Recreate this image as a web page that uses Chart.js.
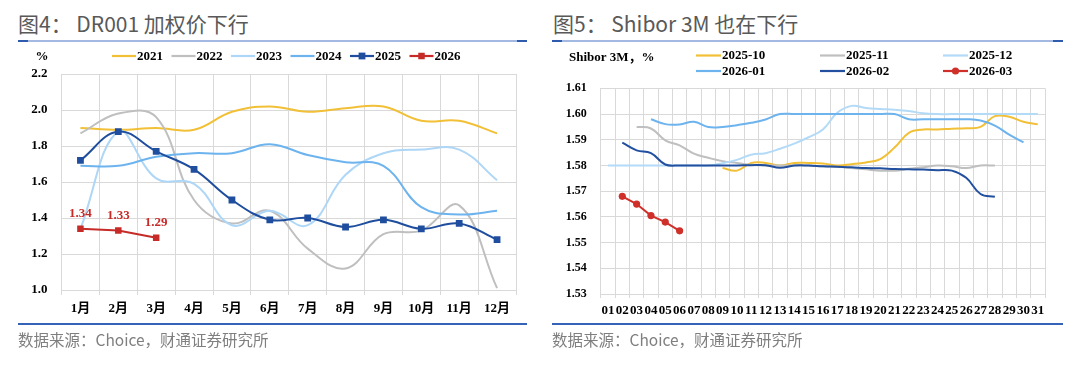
<!DOCTYPE html>
<html>
<head>
<meta charset="utf-8">
<script src="https://cdn.jsdelivr.net/npm/chart.js@4.4.1/dist/chart.umd.min.js"></script>
<style>
  body { margin: 0; background: #fff; width: 1080px; height: 367px; overflow: hidden; position: relative; font-family: "Noto Sans CJK SC", sans-serif; }
  .title { position: absolute; top: 8px; font-size: 21px; color: #595959; white-space: pre; }
  .rule-top { position: absolute; top: 40px; height: 2px; background: #A3B9E2; }
  .rule-top::before, .rule-top::after { content: ''; position: absolute; top: 0; width: 10px; height: 2px; background: #2F5BAE; }
  .rule-top::before { left: 0; }
  .rule-top::after { right: 0; }
  .rule-bottom { position: absolute; top: 323px; height: 2px; background: #3563B8; }
  .source { position: absolute; top: 328px; font-size: 15.5px; color: #7F7F7F; white-space: pre; }
  canvas { position: absolute; top: 0; }
</style>
</head>
<body>
<div class="title" style="left:18px">图4： DR001 加权价下行</div>
<div class="rule-top" style="left:18px;width:509px"></div>
<div class="title" style="left:553px">图5： Shibor 3M 也在下行</div>
<div class="rule-top" style="left:552px;width:511px"></div>

<canvas id="dr001" width="540" height="367" style="left:0"></canvas>
<canvas id="shibor" width="540" height="367" style="left:540px"></canvas>

<div class="rule-bottom" style="left:18px;width:509px"></div>
<div class="source" style="left:18px">数据来源：Choice，财通证券研究所</div>
<div class="rule-bottom" style="left:552px;width:511px"></div>
<div class="source" style="left:552px">数据来源：Choice，财通证券研究所</div>

<script>
// --- 图4 数据: DR001 月均 (%) ---
const months = ['1月', '2月', '3月', '4月', '5月', '6月', '7月', '8月', '9月', '10月', '11月', '12月'];
const dr2021 = [1.90, 1.89, 1.90, 1.89, 1.99, 2.02, 1.99, 2.01, 2.02, 1.94, 1.94, 1.87];
const dr2022 = [1.87, 1.98, 1.96, 1.50, 1.37, 1.44, 1.23, 1.12, 1.31, 1.33, 1.47, 1.01];
const dr2023 = [1.34, 1.88, 1.62, 1.59, 1.36, 1.44, 1.36, 1.64, 1.76, 1.78, 1.78, 1.61];
const dr2024 = [1.69, 1.69, 1.74, 1.76, 1.76, 1.81, 1.75, 1.71, 1.69, 1.46, 1.42, 1.44];
const dr2025 = [1.72, 1.88, 1.77, 1.67, 1.50, 1.39, 1.40, 1.35, 1.39, 1.34, 1.37, 1.28];
const dr2026 = [1.34, 1.33, 1.29];
const drTicks = { min: 1.0, max: 2.2, step: 0.2 };

// --- 图5 数据: Shibor 3M 日度 (%) ---
const days = ['01', '02', '03', '04', '05', '06', '07', '08', '09', '10', '11', '12', '13', '14', '15', '16',
              '17', '18', '19', '20', '21', '22', '23', '24', '25', '26', '27', '28', '29', '30', '31'];
const sh2510 = [null, null, null, null, null, null, null, null, 1.5790, 1.5780, 1.5810, 1.5810, 1.5800, 1.5810, 1.5810, 1.5808,
                1.5800, 1.5805, 1.5812, 1.5825, 1.5870, 1.5927, 1.5940, 1.5940, 1.5943, 1.5945, 1.5950, 1.5992, 1.5990, 1.5970, 1.5960];
const sh2511 = [null, null, 1.5950, 1.5944, 1.5898, 1.5878, 1.5846, 1.5830, 1.5817, 1.5810, 1.5803, 1.5800, 1.5800, 1.5800, 1.5800, 1.5797,
                1.5795, 1.5790, 1.5785, 1.5780, 1.5780, 1.5787, 1.5793, 1.5800, 1.5797, 1.5790, 1.5800, 1.5800, null, null, null];
const sh2512 = [1.5800, 1.5800, 1.5800, 1.5800, 1.5800, 1.5800, 1.5800, 1.5800, 1.5809, 1.5822, 1.5842, 1.5848, 1.5865, 1.5885, 1.5910, 1.5940,
                1.6005, 1.6032, 1.6024, 1.6020, 1.6017, 1.6012, 1.6003, 1.6000, 1.6000, 1.6000, 1.6000, 1.6000, 1.6000, 1.6000, 1.6000];
const sh2601 = [null, null, null, 1.5980, 1.5961, 1.5960, 1.5970, 1.5950, 1.5950, 1.5957, 1.5966, 1.5979, 1.6000, 1.6000, 1.6000, 1.6000,
                1.6000, 1.6000, 1.6000, 1.6000, 1.6000, 1.5980, 1.5980, 1.5980, 1.5980, 1.5980, 1.5975, 1.5955, 1.5920, 1.5890, null];
const sh2602 = [null, 1.5889, 1.5859, 1.5848, 1.5804, 1.5800, 1.5800, 1.5800, 1.5800, 1.5800, 1.5801, 1.5801, 1.5791, 1.5800, 1.5800, 1.5797,
                1.5795, 1.5793, 1.5790, 1.5789, 1.5786, 1.5785, 1.5784, 1.5782, 1.5780, 1.5752, 1.5689, 1.5678, null, null, null];
const sh2603 = [null, 1.5680, 1.5650, 1.5605, 1.5580, 1.5546];
const shTicks = { min: 1.53, max: 1.61, step: 0.01 };

const SERIF = '"Liberation Serif", "Noto Sans CJK SC", serif';
const GRID = '#D9D9D9';

Chart.defaults.font.family = SERIF;
Chart.defaults.font.weight = 'bold';
Chart.defaults.color = '#000';

// 画线条(无标记)
function plainLine(label, data, color, order) {
    return { label, data, borderColor: color, backgroundColor: color, borderWidth: 2,
             pointRadius: 0, pointHoverRadius: 0, tension: 0.4, order };
}
// 画带标记的线
function markedLine(label, data, color, style, radius, tension, order) {
    return { label, data, borderColor: color, backgroundColor: color, borderWidth: 2,
             pointStyle: style, pointRadius: radius, pointHoverRadius: radius,
             pointBackgroundColor: color, pointBorderColor: color, pointBorderWidth: 0,
             tension, order };
}

// 自定义图例: 线段 + 可选标记 + 文字, 位置按参考图
const keyLegend = {
    id: 'keyLegend',
    afterDraw(chart, args, opts) {
        const ctx = chart.ctx;
        ctx.save();
        ctx.font = 'bold 13px ' + SERIF;
        ctx.textBaseline = 'middle';
        ctx.fillStyle = '#000';
        if (opts.unit) {
            ctx.textAlign = opts.unit.align || 'left';
            ctx.fillText(opts.unit.text, opts.unit.x, opts.unit.y);
        }
        ctx.textAlign = 'left';
        chart.data.datasets.forEach((ds, i) => {
            const p = opts.pos[i];
            if (!p) return;
            const len = opts.len;
            ctx.strokeStyle = ds.borderColor;
            ctx.lineWidth = 2.2;
            ctx.beginPath();
            ctx.moveTo(p[0], p[1]);
            ctx.lineTo(p[0] + len, p[1]);
            ctx.stroke();
            if (ds.pointRadius > 0) {
                ctx.fillStyle = ds.borderColor;
                const r = ds.pointRadius;
                ctx.beginPath();
                if (ds.pointStyle === 'rect') {
                    const s = r * Math.SQRT1_2;
                    ctx.rect(p[0] + len / 2 - s, p[1] - s, 2 * s, 2 * s);
                } else {
                    ctx.arc(p[0] + len / 2, p[1], r, 0, Math.PI * 2);
                }
                ctx.fill();
            }
            ctx.fillStyle = '#000';
            ctx.fillText(ds.label, p[0] + len + 1, p[1] + 0.5);
        });
        ctx.restore();
    }
};

// 数据标签 (仅 showValues 的序列)
const valueLabels = {
    id: 'valueLabels',
    afterDatasetsDraw(chart) {
        const ctx = chart.ctx;
        chart.data.datasets.forEach((ds, i) => {
            if (!ds.showValues) return;
            const meta = chart.getDatasetMeta(i);
            ctx.save();
            ctx.font = 'bold 13px ' + SERIF;
            ctx.fillStyle = ds.borderColor;
            ctx.textAlign = 'center';
            ctx.textBaseline = 'middle';
            meta.data.forEach((pt, j) => {
                if (ds.data[j] == null) return;
                ctx.fillText(ds.data[j].toFixed(2), pt.x, pt.y - 15);
            });
            ctx.restore();
        });
    }
};

function axes(t, fontSize, xFontSize, decimals, yWidth, xHeight, tickLen, xPad) {
    return {
        x: {
            offset: true,
            grid: { offset: true, color: GRID, tickLength: tickLen },
            border: { color: GRID },
            ticks: { font: { size: xFontSize, weight: 'bold' }, padding: xPad, maxRotation: 0, minRotation: 0, autoSkip: false },
            afterFit: s => { s.height = xHeight; }
        },
        y: {
            min: t.min, max: t.max,
            grid: { color: GRID, drawTicks: false },
            border: { color: GRID },
            ticks: { stepSize: t.step, font: { size: fontSize, weight: 'bold' }, padding: 14,
                     callback: v => Number(v).toFixed(decimals) },
            afterFit: s => { s.width = yWidth; }
        }
    };
}

// --- 图4 ---
new Chart(document.getElementById('dr001'), {
    type: 'line',
    data: {
        labels: months,
        datasets: [
            plainLine('2021', dr2021, '#F2C037', 6),
            plainLine('2022', dr2022, '#BFBFBF', 5),
            plainLine('2023', dr2023, '#ADD6F7', 4),
            plainLine('2024', dr2024, '#6DB3EE', 3),
            markedLine('2025', dr2025, '#1F4E9E', 'rect', 4.8, 0.4, 2),
            Object.assign(markedLine('2026', dr2026, '#C62B28', 'rect', 4.6, 0, 1), { showValues: true })
        ]
    },
    options: {
        responsive: false,
        animation: false,
        layout: { padding: { left: 0, right: 24, top: 74, bottom: 47 } },
        plugins: {
            legend: { display: false },
            tooltip: { enabled: false },
            keyLegend: {
                len: 24,
                unit: { text: '%', x: 42, y: 57, align: 'center' },
                pos: [[112, 56], [171.5, 56], [231, 56], [290.5, 56], [350, 56], [409.5, 56]]
            }
        },
        scales: axes(drTicks, 13, 13, 1, 61.5, 30, 5, 6)
    },
    plugins: [keyLegend, valueLabels]
});

// --- 图5 ---
new Chart(document.getElementById('shibor'), {
    type: 'line',
    data: {
        labels: days,
        datasets: [
            plainLine('2025-10', sh2510, '#F2C037', 6),
            plainLine('2025-11', sh2511, '#BFBFBF', 5),
            plainLine('2025-12', sh2512, '#B3DAF7', 4),
            plainLine('2026-01', sh2601, '#6DB3EE', 3),
            plainLine('2026-02', sh2602, '#22509F', 2),
            markedLine('2026-03', sh2603, '#D0302A', 'circle', 3.6, 0, 1)
        ]
    },
    options: {
        responsive: false,
        animation: false,
        layout: { padding: { left: 0, right: 35, top: 88.4, bottom: 43 } },
        plugins: {
            legend: { display: false },
            tooltip: { enabled: false },
            keyLegend: {
                len: 25,
                unit: { text: 'Shibor 3M，%', x: 29, y: 58, align: 'left' },
                pos: [[156, 55.5], [280, 55.5], [403, 55.5], [156, 71], [280, 71], [403, 71]]
            }
        },
        scales: axes(shTicks, 12, 13, 2, 60.8, 30, 4, 5)
    },
    plugins: [keyLegend]
});
</script>
</body>
</html>
